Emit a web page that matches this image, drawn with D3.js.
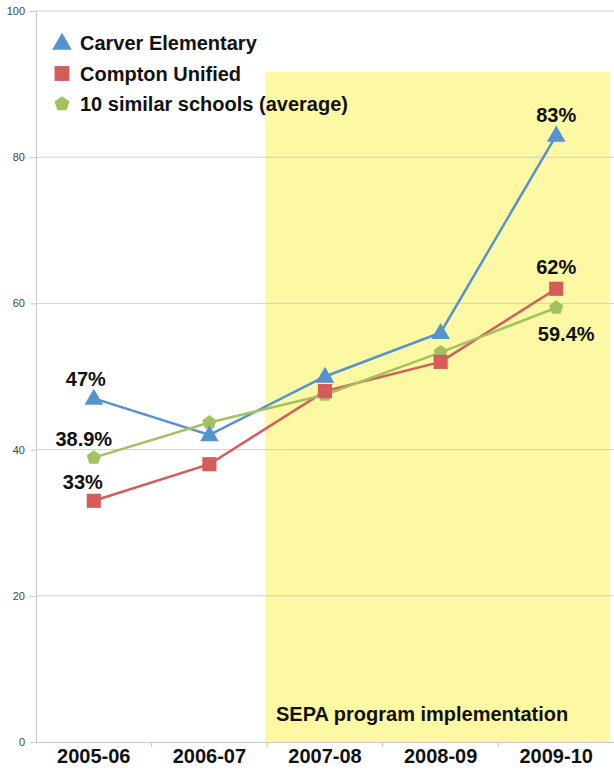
<!DOCTYPE html>
<html>
<head>
<meta charset="utf-8">
<script src="https://cdn.jsdelivr.net/npm/d3@7"></script>
<style>
  body { margin: 0; background: #fff; }
  svg { display: block; font-family: "Liberation Sans", Arial, sans-serif; }
</style>
</head>
<body>
<svg id="chart" width="614" height="772"></svg>
<script>
// data
const years = ['2005-06', '2006-07', '2007-08', '2008-09', '2009-10']
const carver = [47, 42, 50, 56, 83]
const compton = [33, 38, 48, 52, 62]
const similar = [38.9, 43.7, 47.5, 53.3, 59.4]
const yTicks = [0, 20, 40, 60, 80, 100]
const programStart = '2007-08'

const svg = d3.select('#chart')
const mLeft = 36, mRight = 614, mTop = 11, mBottom = 742

let x = d3.scaleBand().domain(years).range([mLeft, mRight]).padding(0)
let y = d3.scaleLinear().domain([0, 100]).range([mBottom, mTop])

// yellow program band
svg.append('rect')
  .attr('x', x(programStart) - 2)
  .attr('y', 72)
  .attr('width', 610 - x(programStart) + 2)
  .attr('height', mBottom - 72)
  .attr('fill', '#fcf8a4')

// gridlines
svg.append('g')
  .selectAll('line')
  .data(yTicks.filter((d) => d > 0))
  .enter()
  .append('line')
  .attr('x1', mLeft)
  .attr('x2', mRight)
  .attr('y1', (d) => y(d))
  .attr('y2', (d) => y(d))
  .attr('stroke', '#d0d0d0')
  .attr('stroke-width', 1)

// y axis
let yAxis = svg.append('g')
  .attr('transform', `translate(${mLeft},0)`)
  .call(d3.axisLeft(y).tickValues(yTicks).tickSize(6).tickPadding(5))
yAxis.select('.domain').attr('stroke', '#c8c8c8')
yAxis.selectAll('.tick line').attr('stroke', '#c8c8c8')
yAxis.selectAll('.tick text').attr('fill', '#444').style('font-size', '11px')

// x axis
let xAxis = svg.append('g')
  .attr('transform', `translate(0,${mBottom})`)
  .call(d3.axisBottom(x).tickSize(0).tickPadding(7))
xAxis.select('.domain').attr('stroke', '#c8c8c8')
xAxis.selectAll('.tick text')
  .attr('fill', '#111')
  .style('font-size', '20px')
  .style('font-weight', 'bold')

// small ticks at band edges
svg.append('g')
  .selectAll('line')
  .data(years.slice(1))
  .enter()
  .append('line')
  .attr('x1', (d) => x(d))
  .attr('x2', (d) => x(d))
  .attr('y1', mBottom)
  .attr('y2', mBottom + 5)
  .attr('stroke', '#c8c8c8')

svg.append('text')
  .attr('x', 276)
  .attr('y', 721)
  .attr('fill', '#111')
  .style('font-size', '20px')
  .style('font-weight', 'bold')
  .text('SEPA program implementation')

const series = [
  { name: 'Carver Elementary', values: carver, color: '#5592d0', symbol: d3.symbolTriangle, size: 150 },
  { name: 'Compton Unified', values: compton, color: '#d65c5a', symbol: d3.symbolSquare, size: 200 },
  { name: '10 similar schools (average)', values: similar, color: '#a3c25f', symbol: null, size: 130 }
]

// pentagon marker
function pentagon(r) {
  let pts = d3.range(5).map((i) => {
    let a = -Math.PI / 2 + i * 2 * Math.PI / 5
    return [r * Math.cos(a), r * Math.sin(a)]
  })
  return 'M' + pts.join('L') + 'Z'
}

function markerPath(s, scale) {
  if (!s.symbol) return pentagon(7.5 * scale)
  return d3.symbol().type(s.symbol).size(s.size * scale * scale)()
}

let cx = (i) => x(years[i]) + x.bandwidth() / 2

series.forEach((s) => {
  let line = d3.line().x((d, i) => cx(i)).y((d) => y(d))
  svg.append('path')
    .datum(s.values)
    .attr('d', line)
    .attr('fill', 'none')
    .attr('stroke', s.color)
    .attr('stroke-width', 2.5)
})

// markers (drawn after all lines)
series.slice().reverse().forEach((s) => {
  svg.append('g')
    .selectAll('path')
    .data(s.values)
    .enter()
    .append('path')
    .attr('d', markerPath(s, 1))
    .attr('transform', (d, i) => `translate(${cx(i)},${y(d) + (s.symbol === d3.symbolTriangle ? 1 : 0)})`)
    .attr('fill', s.color)
})

// data labels on first and last points
const labels = [
  { i: 0, v: carver[0], text: '47%', dx: -8, dy: -12 },
  { i: 0, v: similar[0], text: '38.9%', dx: -10, dy: -12 },
  { i: 0, v: compton[0], text: '33%', dx: -11, dy: -12 },
  { i: 4, v: carver[4], text: '83%', dx: 0, dy: -13 },
  { i: 4, v: compton[4], text: '62%', dx: 0, dy: -15 },
  { i: 4, v: similar[4], text: '59.4%', dx: 10, dy: 33 }
]
svg.append('g')
  .selectAll('text')
  .data(labels)
  .enter()
  .append('text')
  .attr('x', (d) => cx(d.i) + d.dx)
  .attr('y', (d) => y(d.v) + d.dy)
  .attr('text-anchor', 'middle')
  .attr('fill', '#111')
  .style('font-size', '20px')
  .style('font-weight', 'bold')
  .text((d) => d.text)

// legend
let legend = svg.append('g')
series.forEach((s, i) => {
  let ly = 43 + i * 30.5
  legend.append('path')
    .attr('d', markerPath(s, 1.05))
    .attr('transform', `translate(62,${ly + (i === 0 ? 1 : 0)})`)
    .attr('fill', s.color)
  legend.append('text')
    .attr('x', 80)
    .attr('y', ly + 7)
    .attr('fill', '#111')
    .style('font-size', '20px')
    .style('font-weight', 'bold')
    .text(s.name)
})
</script>
</body>
</html>
